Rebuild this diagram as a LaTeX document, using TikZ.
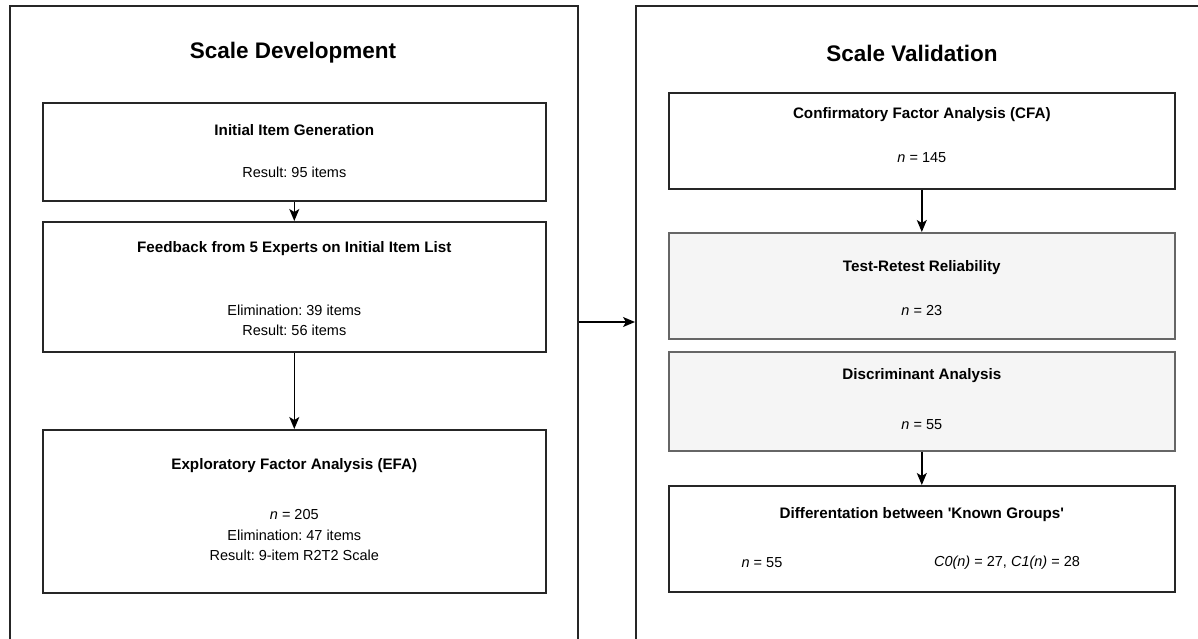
\documentclass[tikz,border=0pt]{standalone}
\usepackage{fontspec}
\setmainfont{Liberation Sans}
\usetikzlibrary{arrows.meta}
\frenchspacing
\begin{document}
\begin{tikzpicture}[x=1pt,y=-1pt,
  panel/.style={draw=black!85, line width=1.6pt, anchor=north west, inner sep=0pt},
  stepbox/.style={draw=black!85, line width=1.6pt, fill=white, anchor=north west, inner sep=0pt},
  graybox/.style={draw=black!60, line width=1.6pt, fill=black!4, anchor=north west, inner sep=0pt},
  arr/.style={line width=1.4pt, -{Stealth[length=12pt,width=10pt,inset=3pt]}},
  ttl/.style={font=\fontsize{22.5}{26}\selectfont\bfseries},
  hd/.style={font=\fontsize{15.2}{18}\selectfont\bfseries},
  bd/.style={font=\fontsize{14.5}{17}\selectfont}
]
\useasboundingbox (0,0) rectangle (1198,639);
\clip (0,0) rectangle (1198,639);
% panels
\node[panel, minimum width=568pt, minimum height=700pt] (devpanel) at (9,5) {};
\node[panel, minimum width=600pt, minimum height=700pt] (valpanel) at (635,5) {};
\node[ttl] (devtitle) at (293,53) {Scale Development};
\node[ttl] (valtitle) at (912,53) {Scale Validation};
% left boxes
\node[stepbox, minimum width=503pt, minimum height=98pt] (b1) at (42,102) {};
\node[hd] (b1t) at (b1.center |- 0,130) {Initial Item Generation};
\node[bd] (b1a) at (b1.center |- 0,172) {Result: 95 items};
\node[stepbox, minimum width=503pt, minimum height=130pt] (b2) at (42,221) {};
\node[hd] (b2t) at (b2.center |- 0,249) {Feedback from 5 Experts on Initial Item List};
\node[bd] (b2a) at (b2.center |- 0,310) {Elimination: 39 items};
\node[bd] (b2b) at (b2.center |- 0,330) {Result: 56 items};
\node[stepbox, minimum width=503pt, minimum height=163pt] (b3) at (42,429) {};
\node[hd] (b3t) at (b3.center |- 0,466) {Exploratory Factor Analysis (EFA)};
\node[bd] (b3a) at (b3.center |- 0,515) {\textit{n} = 205};
\node[bd] (b3b) at (b3.center |- 0,535) {Elimination: 47 items};
\node[bd] (b3c) at (b3.center |- 0,555) {Result: 9-item R2T2 Scale};
% right boxes
\node[stepbox, minimum width=506pt, minimum height=96pt] (c1) at (668,92) {};
\node[hd] (c1t) at (c1.center |- 0,115) {Confirmatory Factor Analysis (CFA)};
\node[bd] (c1a) at (c1.center |- 0,158) {\textit{n} = 145};
\node[graybox, minimum width=506pt, minimum height=106pt] (c2) at (668,232) {};
\node[hd] (c2t) at (c2.center |- 0,268) {Test-Retest Reliability};
\node[bd] (c2a) at (c2.center |- 0,311) {\textit{n} = 23};
\node[graybox, minimum width=506pt, minimum height=99pt] (c3) at (668,351) {};
\node[hd] (c3t) at (c3.center |- 0,376) {Discriminant Analysis};
\node[bd] (c3a) at (c3.center |- 0,425) {\textit{n} = 55};
\node[stepbox, minimum width=506pt, minimum height=106pt] (c4) at (668,485) {};
\node[hd] (c4t) at (c4.center |- 0,515) {Differentation between \textquotesingle Known Groups\textquotesingle};
\node[bd] (c4a) at (762,563) {\textit{n} = 55};
\node[bd] (c4b) at (1007,563) {\textit{C0(n)} = 27, \textit{C1(n)} = 28};
% connectors
\draw[arr] (b1.south) -- (b2.north);
\draw[arr] (b2.south) -- (b3.north);
\draw[arr] (c1.south) -- (c2.north);
\draw[arr] (c3.south) -- (c4.north);
\draw[arr] (devpanel.east |- 0,322) -- (valpanel.west |- 0,322);
\end{tikzpicture}
\end{document}
